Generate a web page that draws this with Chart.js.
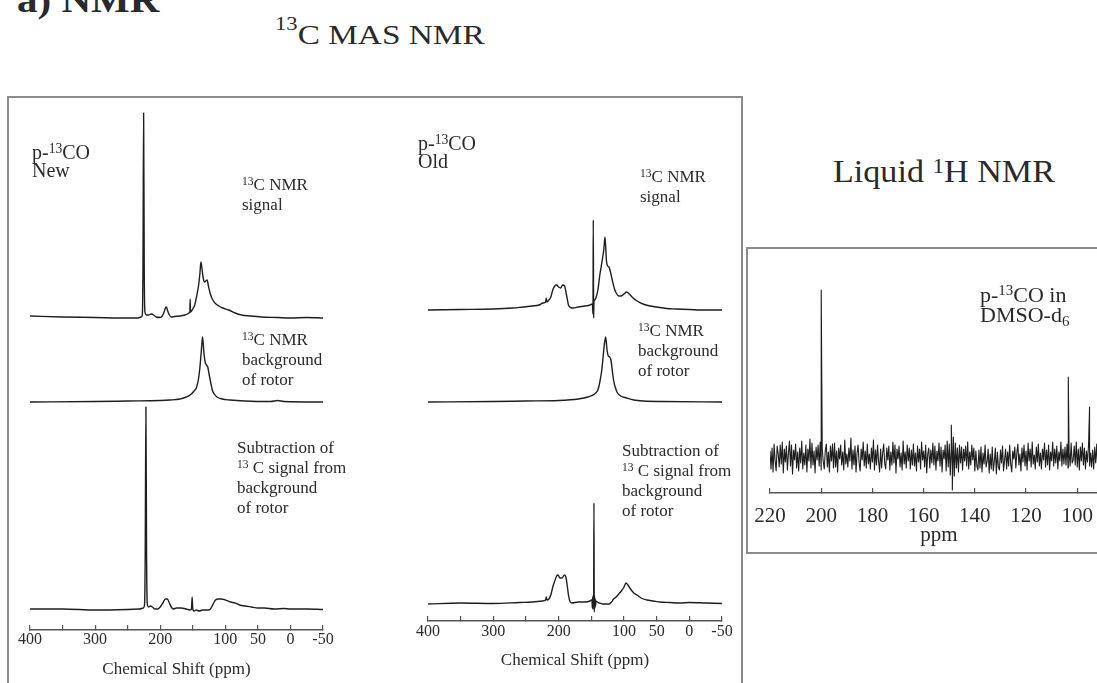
<!DOCTYPE html>
<html>
<head>
<meta charset="utf-8">
<script src="https://cdn.jsdelivr.net/npm/chart.js@4.4.1/dist/chart.umd.min.js"></script>
<style>
html,body{margin:0;padding:0;width:1097px;height:683px;overflow:hidden;background:#fff;}
.t{position:absolute;font-family:'Liberation Serif',serif;color:#2a2a2a;white-space:nowrap;line-height:1;}
.t sup{font-size:0.68em;position:relative;top:-0.45em;vertical-align:baseline;line-height:0;}
.t sub{font-size:0.68em;position:relative;top:0.3em;vertical-align:baseline;line-height:0;}
.t.big sup{top:-0.75em;}
canvas{position:absolute;}
.box{position:absolute;border:2px solid #8c8c8c;box-sizing:border-box;}
</style>
</head>
<body>
<div class="box" style="left:7px;top:96px;width:736px;height:640px;"></div>
<div class="box" style="left:746px;top:247px;width:400px;height:307px;"></div>

<div class="t" style="left:17px;top:-18px;font-size:36px;font-weight:bold;transform:scaleX(1.14);transform-origin:0 0;">a) NMR</div>
<div class="t big" style="left:275px;top:21px;font-size:28px;transform:scaleX(1.19);transform-origin:0 0;"><sup>13</sup>C MAS NMR</div>
<div class="t" style="left:833px;top:156px;font-size:31px;transform:scaleX(1.1);transform-origin:0 0;">Liquid <sup>1</sup>H NMR</div>

<canvas id="cNew" width="353" height="578" style="left:0px;top:100px;"></canvas>
<canvas id="cOld" width="354" height="569" style="left:398px;top:100px;"></canvas>
<canvas id="cLiq" width="408" height="286" style="left:730px;top:260px;"></canvas>

<div class="t" style="left:32px;top:143px;font-size:20px;line-height:18px;">p-<sup>13</sup>CO<br>New</div>
<div class="t" style="left:242px;top:175px;font-size:17px;line-height:20px;"><sup>13</sup>C NMR<br>signal</div>
<div class="t" style="left:242px;top:330px;font-size:17px;line-height:20px;"><sup>13</sup>C NMR<br>background<br>of rotor</div>
<div class="t" style="left:237px;top:438px;font-size:17px;line-height:20px;">Subtraction of<br><sup>13</sup> C signal from<br>background<br>of rotor</div>

<div class="t" style="left:418px;top:134px;font-size:20px;line-height:18px;">p-<sup>13</sup>CO<br>Old</div>
<div class="t" style="left:640px;top:167px;font-size:17px;line-height:20px;"><sup>13</sup>C NMR<br>signal</div>
<div class="t" style="left:638px;top:321px;font-size:17px;line-height:20px;"><sup>13</sup>C NMR<br>background<br>of rotor</div>
<div class="t" style="left:622px;top:441px;font-size:17px;line-height:20px;">Subtraction of<br><sup>13</sup> C signal from<br>background<br>of rotor</div>

<div class="t" style="left:980px;top:285px;font-size:22px;line-height:20px;">p-<sup>13</sup>CO in<br>DMSO-d<sub>6</sub></div>

<script>
// ---------- 13C MAS NMR, "New" sample ----------
const newSignalPpm = [400,350,300,260,235,232,229,227.5,226.5,225.5,224.5,223.5,221,218,214,210,206,200,197,194,192,190.5,189,186,183,178,170,162,158,156,154.5,154,153.5,152,150,147,144,141,139,137.5,136,134,132,130,128,126,123,120,116,110,104,95,85,75,62,45,20,0,-25,-50];
const newSignalInt = [2,1,0.5,0,0,0.5,1,3,50,205,45,6,3,3,4,3,1,0.5,2,6,10,11,8,3,1,1.5,2,3,4,5,6,19,6,7,9,13,22,33,45,56,50,40,36,37,38,32,24,19,15,12,10,8,5,3,2,1,0.5,0,0.5,0];

const newBackgroundPpm = [400,300,250,200,185,170,160,154,148,144,141,139,137,135,133,131,129,127,125,122,120,117,113,105,93,70,30,20,10,-50];
const newBackgroundInt = [0,0.5,1,1.5,2,3,5,7,11,15,24,35,50,65,50,40,37,35,28,18,12,8,5,3,2,1,0.5,1.5,0.5,0];

const newSubtractionPpm = [400,350,300,250,232,226,224,223,222,221,220,218,215,212,208,204,200,196,192,189,186,183,180,175,168,160,155,152,151,150,148,145,140,135,130,125,121,118,115,111,106,100,92,85,78,70,60,50,40,25,10,0,-25,-50];
const newSubtractionInt = [0,0,-1,-0.5,0,1,5,60,202,60,6,2,3,2,0,0,2,6,10,10,6,2,0,1,1,0,-1,0,12,0,-2,-1,-2,-1,-1,-1,2,6,9,10,10,9,7,6,4,3,2,1,1,0,0.5,0,0,-0.5];

// ---------- 13C MAS NMR, "Old" sample ----------
const oldSignalPpm = [400,350,300,270,255,240,230,224,220,219,218,215,212,209,206,203,200,197,194,191,188,185,183,178,170,160,152,149,148,147.5,147,146.5,146,145,143,140,137,134,131,129,127,125,123,120,118,115,112,108,104,100,96,92,86,80,71,60,50,35,20,0,-25,-50];
const oldSignalInt = [0,0.5,1,2,3,4,5,7,8,12,8,10,13,20,24,25,23,22,25,24,15,5,3,2,3,4,5,6,3,-4,90,-8,8,10,12,20,35,47,60,73,50,44,43,36,30,22,17,14,14,16,18,16,12,9,6,4,3,1.5,1,0.5,0,0];

const oldBackgroundPpm = [400,300,250,200,170,155,145,140,137,134,132,130,128,126,124,122,120,118,116,113,110,105,96,85,70,40,-50];
const oldBackgroundInt = [0,0.5,1,1.5,3,5,8,12,20,32,45,58,65,52,46,45,42,32,22,14,9,6,4,2,1,0.5,0];

const oldSubtractionPpm = [400,350,300,260,240,225,220,219,218,215,212,209,206,203,201,198,195,191,189,187,185,183,180,170,160,152,150,149,148.5,148,147.5,147,146.5,146,145.5,145,144.5,144,143.5,143,141,138,133,128,123,119,116,112,108,104,100,97,94,90,85,80,74,65,55,45,30,15,0,-25,-50];
const oldSubtractionInt = [-1,0,-0.5,0.5,1,2,3,6,3,4,8,16,22,27,28,25,25,28,26,18,8,2,0,1,1,2,3,3,-5,6,-6,8,-3,100,-9,7,-5,4,-3,2,1,0,-1,-1,-1,1,4,6,9,12,16,20,18,14,10,8,5,3,2,1,0.5,0,0.5,0,-0.5];

const masTicks = [400,350,300,250,200,150,100,50,0,-50];
const masTickLabels = [400,300,200,100,50,0,-50];

// ---------- Liquid NMR (p-13CO in DMSO-d6) ----------
const liquidStartPpm = 220;
const liquidStepPpm = 0.4;
const liquidNoise = [
 6,-12,9,-15,13,-4,-14,11,3,-10,12,-7,15,-16,8,-5,11,-13,4,16,
 -9,12,-17,7,-3,13,-11,5,-14,9,-6,16,-12,4,-8,12,-15,8,-4,18,
 -11,14,-8,6,-16,10,-3,12,-9,15,-13,8,-5,-12,7,13,-10,5,-15,11,
 -4,13,-11,14,-10,6,-15,9,-2,12,-8,5,-13,17,-7,3,-10,9,-4,19,
 -12,7,-8,11,-15,4,12,-6,-14,8,-3,15,-9,6,-11,13,-7,3,-12,9,
 -5,17,-13,7,-8,12,-4,-15,8,-11,4,13,-7,-12,9,-3,11,-13,5,-8,
 15,-6,12,-16,8,-2,11,-10,4,-13,16,-7,5,-11,12,-4,9,-12,7,-8,
 13,-9,4,-14,11,-5,8,-12,15,-3,6,-10,12,-16,3,9,-11,7,-6,14,
 -8,11,-13,6,-4,14,-9,10,-15,7,-2,12,-14,16,-10,13,-18,11,-12,20,
 -19,14,-11,9,-15,12,-6,10,-13,8,-4,11,-9,15,-12,5,-8,12,-3,9,
 -14,6,-9,-13,7,-11,10,-15,4,-7,12,-10,-4,8,-16,3,-12,10,-14,-5,
 9,-17,5,-10,-13,7,-6,11,-14,-3,8,-12,5,-9,12,-7,-15,6,-2,10,
 -11,4,13,-8,3,-14,9,-5,12,-9,6,-13,14,-4,8,-10,15,-7,2,-12,
 10,-5,13,-9,4,-12,8,-3,14,-10,7,-8,12,-13,5,-4,15,-9,8,-6,
 11,-12,5,-4,15,-9,8,-7,10,-8,13,-11,5,-9,14,-6,-3,11,-8,15,
 -10,8,-13,10,-4,14,-8,9,-12,6,-5,12,-9,4,-10,7,-12,10,-6,13,
 -9,7,-11,12,-5,9,-13,6,-8,11,-4,10,-12,5,-7,13,-9,8,-6,10
];
const liquidPeakPpm = [200, 149.2, 148.8, 103.5, 95.2];
const liquidPeakInt = [167, 32, -33, 80, 50];
const liquidTicks = [220,200,180,160,140,120,100];
const liquidTickLabels = [220,200,180,160,140,120,100];

// ---------- layout constants (not data) ----------
const LINE = '#1e1e1e';
const FONT = "'Liberation Serif', serif";
const newOffsets = {signal: 312, background: 228, subtraction: 21};
const oldOffsets = {signal: 311, background: 219, subtraction: 18};
const liquidOffset = 36;

function toPoints(ppm, vals, offset) {
  return ppm.map((p, i) => ({x: p, y: vals[i] + offset}));
}
function lineDs(points, width) {
  return {data: points, borderColor: LINE, borderWidth: width, pointRadius: 0,
          fill: false, cubicInterpolationMode: 'monotone', borderJoinStyle: 'round'};
}
function xAxis(min, max, ticks, labels, fontSize, pad, axisH, title, titleSize) {
  return {
    type: 'linear', reverse: true, min: min, max: max,
    afterBuildTicks: s => { s.ticks = ticks.map(v => ({value: v})); },
    afterFit: s => { s.height = axisH; },
    ticks: {autoSkip: false, maxRotation: 0, minRotation: 0, padding: pad, color: '#2a2a2a',
            font: {family: FONT, size: fontSize, lineHeight: 1},
            callback: v => labels.includes(v) ? String(v) : ''},
    grid: {display: true, drawOnChartArea: false, drawTicks: true, tickLength: -5, color: '#555', lineWidth: 1.2},
    border: {display: true, color: '#555', width: 1.5},
    title: {display: true, text: title, color: '#2a2a2a', padding: 0,
            font: {family: FONT, size: titleSize, lineHeight: 1}}
  };
}
function baseOpts(xScale, yMax, padLeft) {
  return {
    responsive: false, animation: false, devicePixelRatio: 1,
    layout: {padding: {left: padLeft, right: 30, top: 0, bottom: 0}},
    plugins: {legend: {display: false}, tooltip: {enabled: false}, title: {display: false}},
    scales: {x: xScale, y: {display: false, min: 0, max: yMax}}
  };
}

new Chart(document.getElementById('cNew'), {
  type: 'line',
  data: {datasets: [
    lineDs(toPoints(newSignalPpm, newSignalInt, newOffsets.signal), 1.4),
    lineDs(toPoints(newBackgroundPpm, newBackgroundInt, newOffsets.background), 1.4),
    lineDs(toPoints(newSubtractionPpm, newSubtractionInt, newOffsets.subtraction), 1.4)
  ]},
  options: baseOpts(xAxis(-50, 400, masTicks, masTickLabels, 16, 7, 48, 'Chemical Shift (ppm)', 17), 530, 30)
});

new Chart(document.getElementById('cOld'), {
  type: 'line',
  data: {datasets: [
    lineDs(toPoints(oldSignalPpm, oldSignalInt, oldOffsets.signal), 1.4),
    lineDs(toPoints(oldBackgroundPpm, oldBackgroundInt, oldOffsets.background), 1.4),
    lineDs(toPoints(oldSubtractionPpm, oldSubtractionInt, oldOffsets.subtraction), 1.4)
  ]},
  options: baseOpts(xAxis(-50, 400, masTicks, masTickLabels, 16, 8, 48, 'Chemical Shift (ppm)', 17), 521, 30)
});

const liquidPoints = liquidNoise.map((v, i) => ({x: liquidStartPpm - i * liquidStepPpm, y: v + liquidOffset}))
  .concat(liquidPeakPpm.map((p, i) => ({x: p, y: liquidPeakInt[i] + liquidOffset})))
  .sort((a, b) => b.x - a.x);
const liqDs = lineDs(liquidPoints, 1.1);
liqDs.cubicInterpolationMode = 'default';
liqDs.tension = 0;

new Chart(document.getElementById('cLiq'), {
  type: 'line',
  data: {datasets: [liqDs]},
  options: baseOpts(xAxis(88, 220, liquidTicks, liquidTickLabels, 21, 18, 53, 'ppm', 21), 233, 40)
});
</script>
</body>
</html>
